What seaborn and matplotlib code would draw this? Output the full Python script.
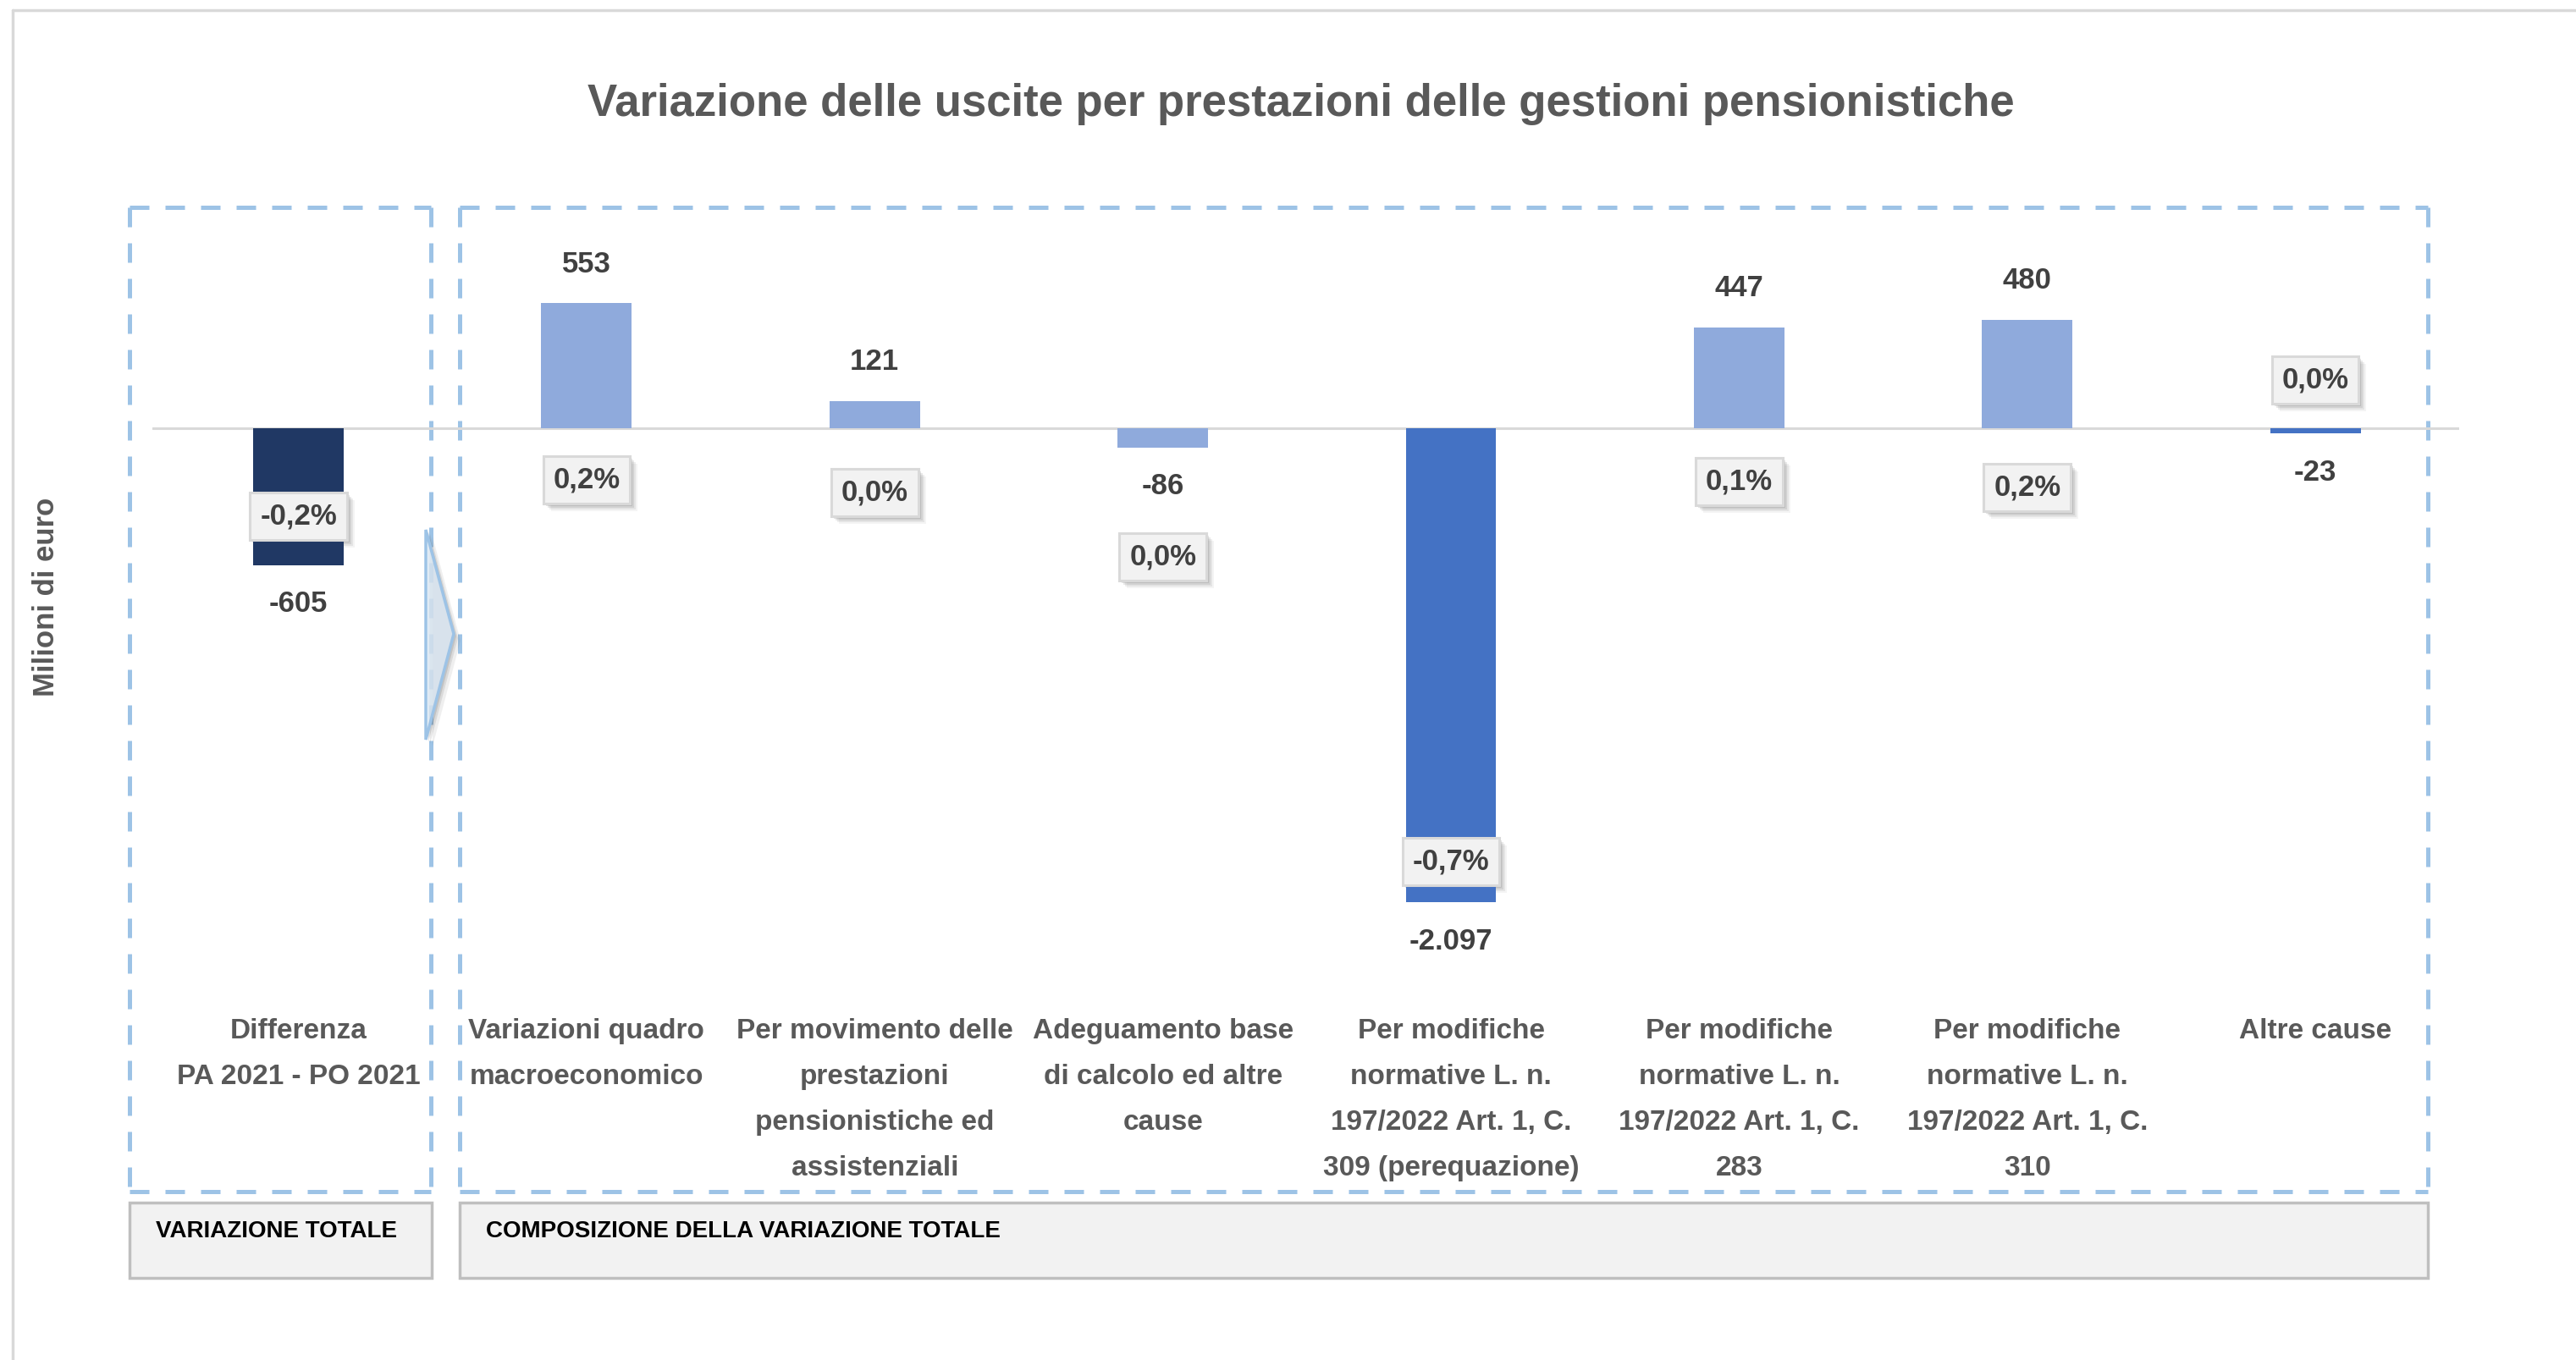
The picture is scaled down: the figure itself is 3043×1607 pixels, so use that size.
import numpy as np
import pandas as pd
import matplotlib
matplotlib.use("Agg")
import matplotlib.pyplot as plt
import matplotlib.transforms as mtransforms
from matplotlib.patches import Rectangle, Polygon
from matplotlib.lines import Line2D
import seaborn as sns

# ---------------- data ----------------
categories = [
    "Differenza\nPA 2021 - PO 2021",
    "Variazioni quadro\nmacroeconomico",
    "Per movimento delle\nprestazioni\npensionistiche ed\nassistenziali",
    "Adeguamento base\ndi calcolo ed altre\ncause",
    "Per modifiche\nnormative L. n.\n197/2022 Art. 1, C.\n309 (perequazione)",
    "Per modifiche\nnormative L. n.\n197/2022 Art. 1, C.\n283",
    "Per modifiche\nnormative L. n.\n197/2022 Art. 1, C.\n310",
    "Altre cause",
]
values = [-605, 553, 121, -86, -2097, 447, 480, -23]
pct_values = [-0.2, 0.2, 0.0, 0.0, -0.7, 0.1, 0.2, 0.0]

title = "Variazione delle uscite per prestazioni delle gestioni pensionistiche"
ylabel = "Milioni di euro"
group_labels = ["VARIAZIONE TOTALE", "COMPOSIZIONE DELLA VARIAZIONE TOTALE"]

# ---------------- styles / layout ----------------
bar_colors = ["#203864", "#8FAADC", "#8FAADC", "#8FAADC", "#4472C4", "#8FAADC", "#8FAADC", "#4472C4"]
pct_label_y = [-389, -228, -285, -569, -1916, -236, -262, 213]   # label box positions (data units)

W, H = 3043, 1607
DPI = 100
sns.set_theme(style="white")
plt.rcParams["font.family"] = ["Liberation Sans", "DejaVu Sans"]
NARROW = ["Liberation Sans Narrow", "Liberation Sans", "DejaVu Sans"]

fig = plt.figure(figsize=(W / DPI, H / DPI), dpi=DPI)
fig.patch.set_facecolor("white")

def fx(px):
    return px / W

def fy(py):
    return 1 - py / H

# axes area
ax_left, ax_right, ax_top, ax_bot = 180, 2905, 245, 1407
ax = fig.add_axes([fx(ax_left), fy(ax_bot), fx(ax_right - ax_left), (ax_bot - ax_top) / H])
ax.set_facecolor("none")

df = pd.DataFrame({"cat": categories, "val": values})
sns.barplot(data=df, x="cat", y="val", hue="cat", palette=dict(zip(categories, bar_colors)),
            width=0.314, saturation=1, legend=False, ax=ax, linewidth=0, zorder=2)
ax.set_xlim(-0.507, 7.499)
ax.set_ylim(-3372, 977)
ax.axis("off")
ax.axhline(0, color="#D9D9D9", lw=2.2, zorder=1)

val_color = "#404040"
for i, v in enumerate(values):
    s = f"{abs(v):,}".replace(",", ".")
    if v < 0:
        s = "-" + s
    off = 33 if v >= 0 else -33
    ax.annotate(s, (i, v), xytext=(0, off), textcoords="offset points",
                ha="center", va="center", fontsize=25, fontweight="bold", color=val_color, zorder=5)

pct_anns = []
for i, (p, yv) in enumerate(zip(pct_values, pct_label_y)):
    s = f"{p:.1f}".replace(".", ",") + "%"
    a = ax.annotate(s, (i, yv), ha="center", va="center", fontsize=25, fontweight="bold",
                    color=val_color,
                    bbox=dict(boxstyle="square,pad=0.34", fc="#F2F2F2", ec="#D9D9D9", lw=2.2), zorder=7)
    pct_anns.append(a)

# category labels
trans = mtransforms.blended_transform_factory(ax.transData, fig.transFigure)
for i, c in enumerate(categories):
    ax.text(i, fy(1203), c, transform=trans, ha="center", va="top", fontsize=24,
            fontweight="bold", color="#595959", family=NARROW, linespacing=1.96, zorder=5)

# title and y label
fig.text(fx(1537), fy(123), title, ha="center", va="center", fontsize=38, fontweight="bold",
         color="#595959", family=NARROW)
fig.text(fx(54), fy(705), ylabel, ha="center", va="center", rotation=90, fontsize=25,
         fontweight="bold", color="#595959")

# outer frame
fig.add_artist(Line2D([fx(15), fx(W)], [fy(12), fy(12)], color="#D9D9D9", lw=2.5))
fig.add_artist(Line2D([fx(15), fx(15)], [fy(12), fy(H)], color="#D9D9D9", lw=2.5))

# dashed group boxes
dash_col = "#9DC3E6"
for (x0, x1) in [(153, 509), (543, 2868)]:
    for xs, ys in [([x0, x1], [245, 245]), ([x0, x1], [1408, 1408]),
                   ([x0, x0], [245, 1408]), ([x1, x1], [245, 1408])]:
        fig.add_artist(Line2D([fx(x) for x in xs], [fy(y) for y in ys], color=dash_col,
                              lw=3.6, linestyle=(0, (4.6, 3.8)), solid_capstyle="butt",
                              dash_capstyle="butt", zorder=3))

# arrow (chevron)
for k, a in [(8, 0.10), (5, 0.15), (3, 0.2)]:
    fig.add_artist(Polygon([(fx(503 + k), fy(626 + k)), (fx(536 + k), fy(749 + k)), (fx(503 + k), fy(874 + k))],
                           closed=True, transform=fig.transFigure, fc=(0.4, 0.4, 0.4, a), ec="none", zorder=3))
arrow = Polygon([(fx(503), fy(626)), (fx(536), fy(749)), (fx(503), fy(874))], closed=True,
                transform=fig.transFigure, fc=(0.87, 0.92, 0.97, 0.8), ec=dash_col, lw=2.5, zorder=4)
fig.add_artist(arrow)

# bottom grey boxes
for (x0, x1), lab in zip([(153, 510), (543, 2868)], group_labels):
    fig.add_artist(Rectangle((fx(x0), fy(1510)), fx(x1 - x0), (1510 - 1421) / H,
                             transform=fig.transFigure, fc="#F2F2F2", ec="#BFBFBF", lw=2.5, zorder=3))
    fig.text(fx(x0 + 31), fy(1455), lab, ha="left", va="center", fontsize=20, fontweight="bold",
             color="black", family=NARROW, zorder=4)

# soft shadows behind percentage boxes (drawn as patches in pixel space)
fig.canvas.draw()
for a in pct_anns:
    bb = a.get_bbox_patch().get_window_extent(fig.canvas.get_renderer())
    for k, alpha in [(9, 0.06), (7, 0.09), (5, 0.12), (3, 0.15)]:
        fig.add_artist(Rectangle((bb.x0 + k, bb.y0 - k), bb.width, bb.height, transform=None,
                                 fc=(0.3, 0.3, 0.3, alpha), ec="none", zorder=2.5))
ax.set_zorder(5)
ax.patch.set_visible(False)

fig.savefig("out.png", dpi=DPI, facecolor="white")
